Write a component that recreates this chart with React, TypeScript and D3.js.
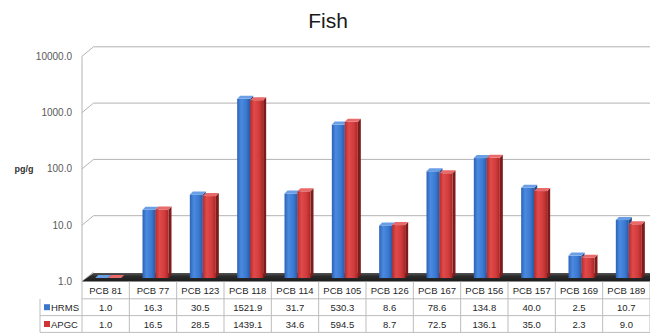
import React from "react";
import * as d3 from "d3";

const categories = ["PCB 81", "PCB 77", "PCB 123", "PCB 118", "PCB 114", "PCB 105", "PCB 126", "PCB 167", "PCB 156", "PCB 157", "PCB 169", "PCB 189"];
const hrms = [1.0, 16.3, 30.5, 1521.9, 31.7, 530.3, 8.6, 78.6, 134.8, 40.0, 2.5, 10.7];
const apgc = [1.0, 16.5, 28.5, 1439.1, 34.6, 594.5, 8.7, 72.5, 136.1, 35.0, 2.3, 9.0];
const seriesNames = ["HRMS", "APGC"];
const yTicks = [1, 10, 100, 1000, 10000];

const W = 650, H = 335;
const left = 82, right = 650;
const frontBase = 281.5, decade = 56.3;
const DX = 11.5, DY = 9.5;
const barBase = 278;
const barW = 13, bd = 3;

const FONT = "'Liberation Sans', Arial, sans-serif";

export default function App() {
  const x = d3.scaleBand<string>().domain(categories).range([left, right]).paddingInner(0).paddingOuter(0);
  const yFront = d3.scaleLog().domain([1, 10000]).range([frontBase, frontBase - 4 * decade]);
  const yBar = d3.scaleLog().domain([1, 10000]).range([barBase, barBase - 4 * decade]);
  const bw = x.bandwidth();

  const series = [
    { name: seriesNames[0], values: hrms, grad: "gBlue", top: "#6a9fe6", side: "#1f4a8a", marker: "#3b78cc" },
    { name: seriesNames[1], values: apgc, grad: "gRed", top: "#e86a6a", side: "#7e1c1c", marker: "#cf3535" },
  ];

  const tableTop = 282, rowH = 16.8;

  return (
    <svg width={W} height={H} style={{ position: "absolute", left: 0, top: 0, background: "#fff" }}>
      <defs>
        <linearGradient id="gBlue" x1="0" x2="1" y1="0" y2="0">
          <stop offset="0%" stopColor="#2c62b4" />
          <stop offset="30%" stopColor="#4a8ae0" />
          <stop offset="70%" stopColor="#3b79d0" />
          <stop offset="100%" stopColor="#2857a2" />
        </linearGradient>
        <linearGradient id="gRed" x1="0" x2="1" y1="0" y2="0">
          <stop offset="0%" stopColor="#b82b2b" />
          <stop offset="30%" stopColor="#e04a4a" />
          <stop offset="70%" stopColor="#d03b3b" />
          <stop offset="100%" stopColor="#a92626" />
        </linearGradient>
        <linearGradient id="gFloor" x1="0" x2="0" y1="0" y2="1">
          <stop offset="0%" stopColor="#555" />
          <stop offset="40%" stopColor="#2a2a2a" />
          <stop offset="100%" stopColor="#1c1c1c" />
        </linearGradient>
      </defs>

      <text x={328} y={28} textAnchor="middle" fontFamily={FONT} fontSize={21} fill="#1a1a1a">Fish</text>

      {/* gridlines & axis */}
      {yTicks.map((t) => {
        const yf = yFront(t);
        const yb = yf - DY;
        return (
          <g key={t}>
            {t !== 1 && <line x1={left + DX} x2={right} y1={yb} y2={yb} stroke="#b3b3b3" strokeWidth={1} />}
            <line x1={left} x2={left + DX} y1={yf} y2={yb} stroke="#b3b3b3" strokeWidth={1} />
            <text x={72} y={yf} textAnchor="end" dominantBaseline="central" fontFamily={FONT} fontSize={10} fill="#595959">
              {t.toFixed(1)}
            </text>
          </g>
        );
      })}
      <line x1={left} x2={left} y1={yFront(10000)} y2={frontBase} stroke="#b3b3b3" strokeWidth={1} />
      <text x={24} y={yFront(100)} textAnchor="middle" dominantBaseline="central" fontFamily={FONT} fontSize={9} fontWeight="bold" fill="#333">pg/g</text>

      {/* floor */}
      <polygon
        points={`${left},${frontBase} ${left + DX},${frontBase - DY + 1} ${right},${frontBase - DY + 1} ${right},${frontBase}`}
        fill="url(#gFloor)"
      />

      {/* bars */}
      {categories.map((c, i) => {
        const cx = (x(c) as number) + bw / 2 + 2.5;
        return (
          <g key={c}>
            {series.map((s, k) => {
              const x0 = cx - barW + k * barW;
              const yt = yBar(s.values[i]);
              const h = barBase - yt;
              return (
                <g key={s.name}>
                  <polygon
                    points={`${x0 + barW},${yt} ${x0 + barW + bd},${yt - bd} ${x0 + barW + bd},${barBase - bd} ${x0 + barW},${barBase}`}
                    fill={s.side}
                  />
                  {h > 0.5 && <rect x={x0} y={yt} width={barW} height={h} fill={`url(#${s.grad})`} />}
                  <polygon
                    points={`${x0},${yt} ${x0 + bd},${yt - bd} ${x0 + barW + bd},${yt - bd} ${x0 + barW},${yt}`}
                    fill={s.top}
                  />
                </g>
              );
            })}
          </g>
        );
      })}

      {/* data table */}
      <g fontFamily={FONT} fill="#262626">
        {[0, 1, 2].map((r) => (
          <line key={"h" + r} x1={r === 0 ? left : 40} x2={right} y1={tableTop + (r + 1) * rowH} y2={tableTop + (r + 1) * rowH} stroke="#bdbdbd" />
        ))}
        <line x1={40} x2={40} y1={tableTop + rowH} y2={tableTop + 3 * rowH} stroke="#bdbdbd" />
        <line x1={left} x2={left} y1={frontBase} y2={tableTop + 3 * rowH} stroke="#bdbdbd" />
        {categories.map((c) => (
          <line key={"v" + c} x1={(x(c) as number) + bw} x2={(x(c) as number) + bw} y1={frontBase} y2={tableTop + 3 * rowH} stroke="#bdbdbd" />
        ))}
        {categories.map((c) => (
          <text key={"t" + c} x={(x(c) as number) + bw / 2} y={tableTop + rowH / 2 + 0.5} textAnchor="middle" dominantBaseline="central" fontSize={9.5}>{c}</text>
        ))}
        {series.map((s, k) => {
          const yc = tableTop + (k + 1.5) * rowH;
          return (
            <g key={s.name}>
              <rect x={44} y={yc - 3} width={6} height={6} fill={s.marker} />
              <text x={51} y={yc} dominantBaseline="central" fontSize={9.5}>{s.name}</text>
              {categories.map((c, i) => (
                <text key={c} x={(x(c) as number) + bw / 2} y={yc} textAnchor="middle" dominantBaseline="central" fontSize={9.5}>
                  {s.values[i].toFixed(1)}
                </text>
              ))}
            </g>
          );
        })}
      </g>
    </svg>
  );
}
